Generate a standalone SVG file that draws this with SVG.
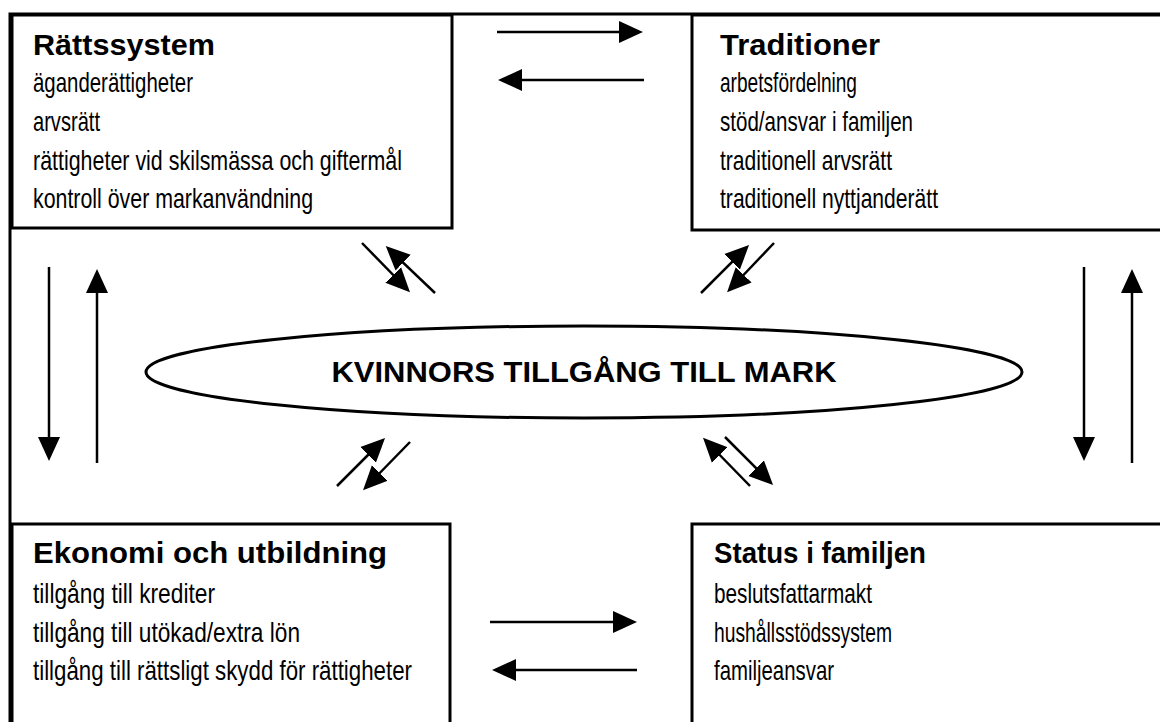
<svg xmlns="http://www.w3.org/2000/svg" width="1160" height="722" viewBox="0 0 1160 722">
<style>
.box{fill:#fff;stroke:#000;stroke-width:3}
.t{font-family:"Liberation Sans",Arial,sans-serif;font-size:29px;font-weight:bold;fill:#000}
.i{font-family:"Liberation Sans",Arial,sans-serif;font-size:28px;fill:#000}
.c{stroke:#000;stroke-width:2.5;fill:none}
.a{marker-end:url(#ah)}
.d{marker-end:url(#ahs)}
</style>
<defs>
<marker id="ah" markerUnits="userSpaceOnUse" markerWidth="24" markerHeight="24" viewBox="0 0 24 24" refX="14" refY="12" orient="auto"><path d="M0,1 L24,12 L0,23 z" fill="#000"/></marker>
<marker id="ahs" markerUnits="userSpaceOnUse" markerWidth="24" markerHeight="24" viewBox="0 0 24 24" refX="14" refY="12" orient="auto"><path d="M0,1 L24,12 L0,23 z" fill="#000"/></marker>
</defs>
<rect width="1160" height="722" fill="#fff"/>
<rect id="frame" x="10" y="14" width="1170" height="730" class="box"/>
<g id="rattssystem">
<rect x="12" y="15" width="440" height="213" class="box"/>
<text x="33" y="55" class="t" textLength="182" lengthAdjust="spacingAndGlyphs">Rättssystem</text>
<text x="33" y="92" class="i" textLength="160" lengthAdjust="spacingAndGlyphs">äganderättigheter</text>
<text x="33" y="131" class="i" textLength="67" lengthAdjust="spacingAndGlyphs">arvsrätt</text>
<text x="33" y="170" class="i" textLength="369" lengthAdjust="spacingAndGlyphs">rättigheter vid skilsmässa och giftermål</text>
<text x="33" y="208" class="i" textLength="280" lengthAdjust="spacingAndGlyphs">kontroll över markanvändning</text>
</g>
<g id="traditioner">
<rect x="692" y="15" width="500" height="215" class="box"/>
<text x="720" y="55" class="t" textLength="160" lengthAdjust="spacingAndGlyphs">Traditioner</text>
<text x="720" y="92" class="i" textLength="137" lengthAdjust="spacingAndGlyphs">arbetsfördelning</text>
<text x="720" y="131" class="i" textLength="193" lengthAdjust="spacingAndGlyphs">stöd/ansvar i familjen</text>
<text x="720" y="170" class="i" textLength="172" lengthAdjust="spacingAndGlyphs">traditionell arvsrätt</text>
<text x="720" y="208" class="i" textLength="218" lengthAdjust="spacingAndGlyphs">traditionell nyttjanderätt</text>
</g>
<g id="ekonomi">
<rect x="12" y="524" width="438" height="230" class="box"/>
<text x="33" y="563" class="t" textLength="354" lengthAdjust="spacingAndGlyphs">Ekonomi och utbildning</text>
<text x="33" y="603" class="i" textLength="182" lengthAdjust="spacingAndGlyphs">tillgång till krediter</text>
<text x="33" y="642" class="i" textLength="267" lengthAdjust="spacingAndGlyphs">tillgång till utökad/extra lön</text>
<text x="33" y="680" class="i" textLength="379" lengthAdjust="spacingAndGlyphs">tillgång till rättsligt skydd för rättigheter</text>
</g>
<g id="status">
<rect x="692" y="524" width="500" height="230" class="box"/>
<text x="714" y="563" class="t" textLength="212" lengthAdjust="spacingAndGlyphs">Status i familjen</text>
<text x="714" y="603" class="i" textLength="158" lengthAdjust="spacingAndGlyphs">beslutsfattarmakt</text>
<text x="714" y="642" class="i" textLength="178" lengthAdjust="spacingAndGlyphs">hushållsstödssystem</text>
<text x="714" y="680" class="i" textLength="120" lengthAdjust="spacingAndGlyphs">familjeansvar</text>
</g>
<g id="center">
<ellipse cx="584" cy="372" rx="438" ry="46" class="box" stroke-width="2.5"/>
<text x="584" y="382" class="t" font-size="28" text-anchor="middle" textLength="505" lengthAdjust="spacingAndGlyphs">KVINNORS TILLGÅNG TILL MARK</text>
</g>
<g id="connectors" class="c">
<line x1="497" y1="32" x2="633" y2="32" class="a"/>
<line x1="644" y1="80" x2="508" y2="80" class="a"/>
<line x1="490" y1="622" x2="627" y2="622" class="a"/>
<line x1="637" y1="670" x2="502" y2="670" class="a"/>
<line x1="49" y1="267" x2="49" y2="451" class="a"/>
<line x1="97" y1="463" x2="97" y2="279" class="a"/>
<line x1="1084" y1="267" x2="1084" y2="451" class="a"/>
<line x1="1132" y1="463" x2="1132" y2="279" class="a"/>
<line x1="362" y1="243" x2="403" y2="285" class="d"/>
<line x1="435" y1="293" x2="393" y2="253" class="d"/>
<line x1="701" y1="293" x2="742" y2="252" class="d"/>
<line x1="774" y1="243" x2="734" y2="285" class="d"/>
<line x1="337" y1="486" x2="378" y2="445" class="d"/>
<line x1="410" y1="442" x2="370" y2="483" class="d"/>
<line x1="750" y1="486" x2="710" y2="445" class="d"/>
<line x1="725" y1="437" x2="766" y2="478" class="d"/>
</g>
</svg>
